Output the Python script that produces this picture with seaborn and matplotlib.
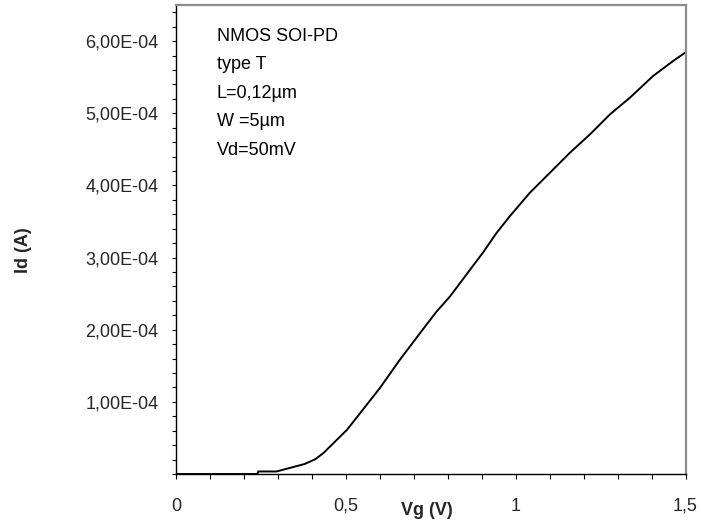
import matplotlib
matplotlib.use("Agg")
import matplotlib.pyplot as plt
from matplotlib.ticker import MultipleLocator, FuncFormatter
import seaborn as sns
import pandas as pd

# Transfer characteristic Id(Vg), NMOS SOI partially depleted
vg = [0.000, 0.240, 0.242, 0.296, 0.379, 0.410, 0.434, 0.483, 0.503, 0.542,
      0.600, 0.659, 0.718, 0.767, 0.807, 0.866, 0.904, 0.944, 0.983,
      1.042, 1.101, 1.160, 1.219, 1.278, 1.337, 1.405, 1.464, 1.500]
id_e4 = [0.000, 0.000, 0.035, 0.035, 0.139, 0.205, 0.290, 0.518, 0.610, 0.843,
         1.190, 1.583, 1.950, 2.250, 2.463, 2.833, 3.070, 3.343, 3.574,
         3.899, 4.176, 4.454, 4.708, 4.986, 5.218, 5.518, 5.726, 5.843]
id_a = [v * 1e-4 for v in id_e4]

x_ticks = [0, 0.5, 1, 1.5]
x_tick_labels = ["0", "0,5", "1", "1,5"]
y_ticks = [1e-4, 2e-4, 3e-4, 4e-4, 5e-4, 6e-4]

info_lines = ["NMOS SOI-PD", "type T", "L=0,12\u00b5m", "W =5\u00b5m", "Vd=50mV"]

df = pd.DataFrame({"Vg": vg, "Id": id_a})

sns.set_style("ticks")
plt.rcParams["font.family"] = ["Liberation Sans", "DejaVu Sans"]

W, H = 701, 529
fig = plt.figure(figsize=(W / 100, H / 100), dpi=100)
ax_l, ax_r, ax_b, ax_t = 176, 685.5, 474, 5
ax = fig.add_axes([ax_l / W, 1 - ax_b / H, (ax_r - ax_l) / W, (ax_b - ax_t) / H])

sns.lineplot(data=df, x="Vg", y="Id", ax=ax, color="black", linewidth=1.4,
             estimator=None, sort=False)

ax.set_xlim(0, 1.5)
ax.set_ylim(0, 6.5e-4)

ax.set_xticks(x_ticks)
ax.set_xticklabels(x_tick_labels)
ax.xaxis.set_minor_locator(MultipleLocator(0.1))
ax.set_yticks(y_ticks)
ax.yaxis.set_major_formatter(
    FuncFormatter(lambda v, p: f"{v:.2E}".replace(".", ",")))
ax.yaxis.set_minor_locator(MultipleLocator(2e-5))

ax.tick_params(axis="x", which="both", direction="out", length=3.6,
               width=0.8, color="black", labelsize=13, pad=13.5)
ax.tick_params(axis="y", which="both", direction="out", length=3.0,
               width=0.8, color="black", labelsize=13, pad=9.5)

for side in ("left", "bottom"):
    ax.spines[side].set_color("black")
    ax.spines[side].set_linewidth(1.0)
for side in ("top", "right"):
    ax.spines[side].set_visible(True)
    ax.spines[side].set_color("#8c8c8c")
    ax.spines[side].set_linewidth(1.6)

ax.set_xlabel("Vg (V)", fontsize=13, fontweight="bold")
ax.xaxis.set_label_coords((427 - ax_l) / (ax_r - ax_l), (ax_b - 502) / (ax_b - ax_t))
ax.xaxis.label.set_va("top")
ax.set_ylabel("Id (A)", fontsize=13, fontweight="bold")
ax.yaxis.set_label_coords((32 - ax_l) / (ax_r - ax_l), (ax_b - 250) / (ax_b - ax_t))

# Device description block
baselines = [41, 69, 98, 126, 155]
for txt, yb in zip(info_lines, baselines):
    ax.text((217 - ax_l) / (ax_r - ax_l), (ax_b - yb) / (ax_b - ax_t), txt,
            transform=ax.transAxes, fontsize=13, va="baseline", ha="left",
            color="black")

fig.savefig("out.png", dpi=100)
